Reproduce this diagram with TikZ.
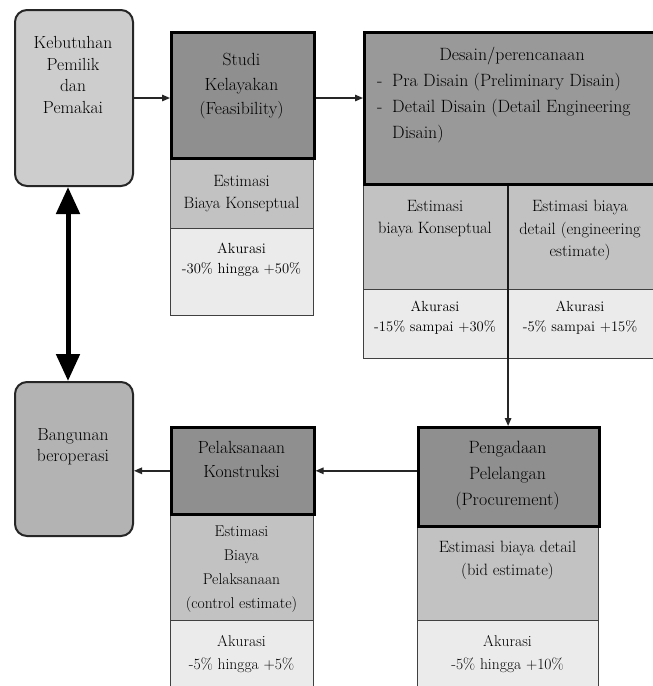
\documentclass[tikz,border=0pt]{standalone}
\usetikzlibrary{arrows.meta,calc}
\definecolor{kebfill}{HTML}{CDCDCD}
\definecolor{bangfill}{HTML}{B3B3B3}
\definecolor{darkfill}{HTML}{8F8F8F}
\definecolor{desfill}{HTML}{999999}
\definecolor{estfill}{HTML}{C2C2C2}
\definecolor{akfill}{HTML}{EBEBEB}
\definecolor{ink}{HTML}{000000}
\tikzset{
  cell/.style={draw=black!75, line width=1.1pt, anchor=north west, inner sep=0pt, minimum width=#1},
  mainbox/.style={draw=black, line width=2.6pt, anchor=north west, inner sep=0pt, minimum width=#1},
  roundbox/.style={draw=black!85, line width=2pt, rounded corners=12pt, anchor=north west, inner sep=0pt, minimum width=118pt},
  txt/.style={inner sep=0pt, align=center, anchor=north, text=ink},
  arr/.style={line width=1.4pt, draw=black!85, -{Triangle[length=8pt,width=6.5pt]}},
  bigarr/.style={line width=5pt, draw=black, {Triangle[length=27pt,width=23pt]}-{Triangle[length=27pt,width=23pt]}},
}
\newcommand{\fsA}{\fontsize{17.5}{21.7}\selectfont}
\newcommand{\fsB}{\fontsize{17.6}{24.5}\selectfont}
\newcommand{\fsC}{\fontsize{16.4}{22.5}\selectfont}
\newcommand{\fsD}{\fontsize{14.6}{20}\selectfont}
\newcommand{\fsE}{\fontsize{15.6}{23}\selectfont}
\newcommand{\fsF}{\fontsize{17.8}{26}\selectfont}
\begin{document}
\begin{tikzpicture}[x=1pt,y=-1pt]
\useasboundingbox[fill=white] (0,0) rectangle (653,686);

% rounded boxes
\node[roundbox, fill=kebfill, minimum height=176pt] (keb) at (14,9) {};
\node[roundbox, fill=bangfill, minimum height=154pt] (bang) at (14,381) {};
\node[txt, font=\fsA] (kebt) at (73,36) {Kebutuhan\\Pemilik\\dan\\Pemakai};
\node[txt, font=\fsA] (bangt) at (73,428) {Bangunan\\beroperasi};

% Studi kelayakan
\node[cell=143pt, fill=estfill, minimum height=71pt] (sest) at (170,157) {};
\node[cell=143pt, fill=akfill, minimum height=87pt] (sak) at (170,228) {};
\node[mainbox=143pt, fill=darkfill, minimum height=126pt] (studi) at (170,31) {};
\node[txt, font=\fsB] (studit) at (241.5,53) {Studi\\Kelayakan\\(Feasibility)};
\node[txt, font=\fsC] (sestt) at (241.5,175) {Estimasi\\Biaya Konseptual};
\node[txt, font=\fsD] (sakt) at (241.5,243) {Akurasi\\-30\% hingga +50\%};

% Desain
\node[cell=144pt, fill=estfill, minimum height=106pt] (destl) at (363,183) {};
\node[cell=160pt, fill=estfill, minimum height=106pt] (destr) at (507,183) {};
\node[cell=144pt, fill=akfill, minimum height=69pt] (dakl) at (363,289) {};
\node[cell=160pt, fill=akfill, minimum height=69pt] (dakr) at (507,289) {};
\draw[line width=1.8pt, black!90] (destl.north east) -- (dakl.south east);
\node[mainbox=300pt, fill=desfill, minimum height=152pt] (desain) at (363,31) {};
\node[txt, font=\fsF] (desaint) at (512,47) {Desain/perencanaan};
\node[txt, font=\fsF, anchor=north west, align=left] (desaini) at (377,73)
  {\makebox[15pt][l]{-}Pra Disain (Preliminary Disain)\\\makebox[15pt][l]{-}Detail Disain (Detail Engineering\\\hspace*{15pt}Disain)};
\node[txt, font=\fsC] (destlt) at (435,200) {Estimasi\\biaya Konseptual};
\node[txt, font=\fsC] (destrt) at (580,200) {Estimasi biaya\\detail (engineering\\estimate)};
\node[txt, font=\fsD] (daklt) at (435,301) {Akurasi\\-15\% sampai +30\%};
\node[txt, font=\fsD] (dakrt) at (580,301) {Akurasi\\-5\% sampai +15\%};

% Pengadaan
\node[cell=181pt, fill=estfill, minimum height=95pt] (pest) at (417,525) {};
\node[cell=181pt, fill=akfill, minimum height=80pt] (pak) at (417,620) {};
\node[mainbox=181pt, fill=darkfill, minimum height=99pt] (peng) at (417,426) {};
\node[txt, font=\fsF, align=center] (pengt) at (507.5,441) {Pengadaan\\Pelelangan\\(Procurement)};
\node[txt, font=\fsC] (pestt) at (507.5,541) {Estimasi biaya detail\\(bid estimate)};
\node[txt, font=\fsE] (pakt) at (507.5,635) {Akurasi\\-5\% hingga +10\%};

% Pelaksanaan
\node[cell=143pt, fill=estfill, minimum height=107pt] (plest) at (170,513) {};
\node[cell=143pt, fill=akfill, minimum height=80pt] (plak) at (170,620) {};
\node[mainbox=143pt, fill=darkfill, minimum height=87pt] (pel) at (170,426) {};
\node[txt, font=\fsB] (pelt) at (241.5,441) {Pelaksanaan\\Konstruksi};
\node[txt, font=\fontsize{15.6}{24}\selectfont] (plestt) at (241.5,526) {Estimasi\\Biaya\\Pelaksanaan\\(control estimate)};
\node[txt, font=\fsE] (plakt) at (241.5,635) {Akurasi\\-5\% hingga +5\%};

% connectors
\draw[arr] (keb.east) -- (keb.east -| studi.west);
\draw[arr] (keb.east -| studi.east) -- (keb.east -| desain.west);
\draw[arr] (dakl.south east) -- (dakl.south east |- peng.north);
\draw[arr] (pel.east -| peng.west) -- (pel.east);
\draw[arr] (pel.west) -- (pel.west -| bang.east);
\draw[bigarr] ([xshift=-6pt]keb.south) -- ([xshift=-6pt]bang.north);
\end{tikzpicture}
\end{document}
